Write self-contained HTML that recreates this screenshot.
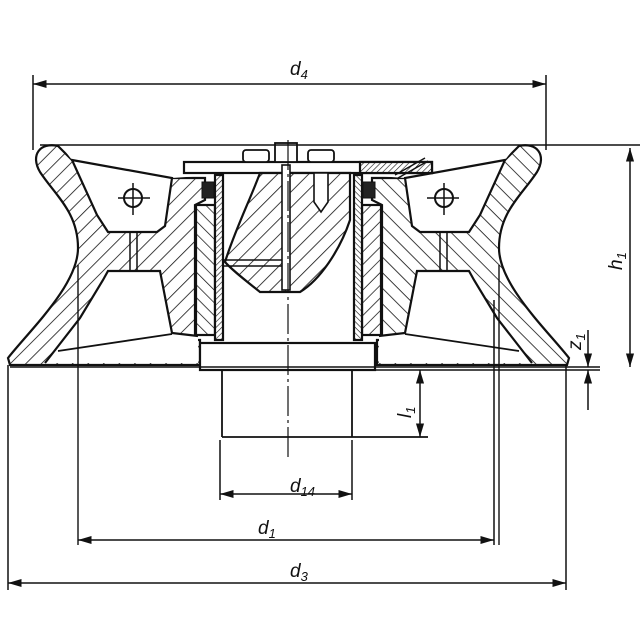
<!DOCTYPE html>
<html><head><meta charset="utf-8"><style>body{margin:0;background:#fff}svg{display:block}</style></head><body>
<svg width="640" height="640" viewBox="0 0 640 640" xmlns="http://www.w3.org/2000/svg" font-family="Liberation Sans, sans-serif">
<defs>
<pattern id="h" width="11" height="11" patternUnits="userSpaceOnUse" patternTransform="rotate(45)"><rect width="11" height="11" fill="#fff"/><line x1="0" y1="0" x2="0" y2="11" stroke="#111" stroke-width="1.6"/></pattern>
<pattern id="h2" width="9" height="9" patternUnits="userSpaceOnUse" patternTransform="rotate(-45)"><rect width="9" height="9" fill="#fff"/><line x1="0" y1="0" x2="0" y2="9" stroke="#111" stroke-width="1.5"/></pattern>
<pattern id="h3" width="4" height="4" patternUnits="userSpaceOnUse" patternTransform="rotate(45)"><rect width="4" height="4" fill="#fff"/><line x1="0" y1="0" x2="0" y2="4" stroke="#111" stroke-width="1.2"/></pattern>
<marker id="a" viewBox="0 0 10 10" refX="10" refY="5" markerWidth="9" markerHeight="9" orient="auto-start-reverse"><path d="M0,2 L10,5 L0,8 z" fill="#111"/></marker>
</defs>
<g stroke="#111" stroke-width="2.2" fill="none">
<g id="L">
<path d="M58,146 C40,142 30,155 40,172 C55,195 78,212 78,248 C78,285 30,330 8,358 L10,365 L200,365 L200,340 L195,340 L195,205 L205,200 L205,178 L172,178 L72,160 Z" fill="url(#h)"/>
<path d="M62,147 L200,147 L200,176 L172,178 L165,226 L157,232 L108,232 L97,215 L72,160 Z" fill="#fff" stroke="none"/>
<path d="M72,160 L172,178 L165,226 L157,232 L108,232 L97,215 Z" fill="#fff"/>
<path d="M108,271 L160,271 L172,333 L198,336 L198,363 L45,363 L80,318 L103,280 Z" fill="#fff" stroke="none"/>
<path d="M45,363 L80,318 L103,280 L108,271 L160,271 L172,333 L198,336"/>
<line x1="58" y1="351" x2="172" y2="334" stroke-width="1.8"/>
<line x1="130" y1="232" x2="130" y2="271" stroke-width="1.5"/>
<line x1="137" y1="232" x2="137" y2="271" stroke-width="1.5"/>
<circle cx="133" cy="198" r="9" stroke-width="2"/>
<line x1="118" y1="198" x2="150" y2="198" stroke-width="1.5"/>
<line x1="133" y1="183" x2="133" y2="215" stroke-width="1.5"/>
<rect x="196" y="205" width="19" height="130" fill="url(#h2)"/>
<rect x="215" y="175" width="8" height="165" fill="url(#h3)"/>
<rect x="202" y="182" width="12" height="16" fill="#222" stroke-width="1"/>
<line x1="78" y1="265" x2="78" y2="545" stroke-width="1.4"/>
</g>
<use href="#L" transform="translate(577,0) scale(-1,1)"/>
<rect x="184" y="162" width="248" height="11" fill="#fff"/>
<rect x="360" y="162" width="72" height="11" fill="url(#h3)"/>
<line x1="395" y1="175" x2="425" y2="158" stroke-width="1.4"/>
<line x1="398" y1="178" x2="428" y2="161" stroke-width="1.4"/>
<path d="M260,173 L350,173 L350,220 C340,250 320,280 300,292 L260,292 C245,280 232,270 225,262 C235,230 250,200 260,173 Z" fill="url(#h)"/>
<line x1="223" y1="260" x2="285" y2="260" stroke-width="1.6"/>
<line x1="223" y1="266" x2="285" y2="266" stroke-width="1.6"/>
<rect x="282" y="165" width="8" height="125" fill="#fff" stroke-width="1.6"/>
<rect x="243" y="150" width="26" height="12" rx="3" fill="#fff" stroke-width="1.8"/>
<rect x="275" y="143" width="22" height="19" fill="#fff" stroke-width="1.8"/>
<rect x="308" y="150" width="26" height="12" rx="3" fill="#fff" stroke-width="1.8"/>
<path d="M314,173 L328,173 L328,202 L321,212 L314,202 Z" fill="#fff" stroke-width="1.6"/>
<rect x="200" y="343" width="175" height="27" fill="#fff"/>
<line x1="222" y1="370" x2="222" y2="437" stroke-width="1.8"/>
<line x1="352" y1="370" x2="352" y2="437" stroke-width="1.8"/>
<line x1="222" y1="437" x2="428" y2="437" stroke-width="1.8"/>
<line x1="40" y1="145" x2="640" y2="145" stroke-width="1.6"/>
<line x1="10" y1="367" x2="600" y2="367" stroke-width="1.6"/>
<line x1="375" y1="370" x2="600" y2="370" stroke-width="1.6"/>
<line x1="288" y1="140" x2="288" y2="460" stroke-width="1.2" stroke-dasharray="30,4,3,4"/>
<g stroke-width="1.5">
<line x1="33" y1="75" x2="33" y2="150"/><line x1="546" y1="75" x2="546" y2="150"/>
<line x1="33" y1="84" x2="546" y2="84" marker-start="url(#a)" marker-end="url(#a)"/>
<line x1="630" y1="148" x2="630" y2="367" marker-start="url(#a)" marker-end="url(#a)"/>
<line x1="588" y1="330" x2="588" y2="367" marker-end="url(#a)"/>
<line x1="588" y1="410" x2="588" y2="370" marker-end="url(#a)"/>
<line x1="420" y1="370" x2="420" y2="437" marker-start="url(#a)" marker-end="url(#a)"/>
<line x1="220" y1="440" x2="220" y2="500"/><line x1="352" y1="440" x2="352" y2="500"/>
<line x1="220" y1="494" x2="352" y2="494" marker-start="url(#a)" marker-end="url(#a)"/>
<line x1="494" y1="300" x2="494" y2="545"/>
<line x1="78" y1="540" x2="494" y2="540" marker-start="url(#a)" marker-end="url(#a)"/>
<line x1="8" y1="365" x2="8" y2="590"/><line x1="566" y1="365" x2="566" y2="590"/>
<line x1="8" y1="583" x2="566" y2="583" marker-start="url(#a)" marker-end="url(#a)"/>
</g>
</g>
<g font-style="italic" font-size="19" fill="#111">
<text x="290" y="75">d<tspan font-size="13" dy="4">4</tspan></text>
<text x="290" y="492">d<tspan font-size="13" dy="4">14</tspan></text>
<text x="258" y="534">d<tspan font-size="13" dy="4">1</tspan></text>
<text x="290" y="577">d<tspan font-size="13" dy="4">3</tspan></text>
<text transform="translate(622,270) rotate(-90)">h<tspan font-size="13" dy="4">1</tspan></text>
<text transform="translate(581,350) rotate(-90)">z<tspan font-size="13" dy="4">1</tspan></text>
<text transform="translate(411,418) rotate(-90)">l<tspan font-size="13" dy="4">1</tspan></text>
</g>
</svg>
</body></html>
